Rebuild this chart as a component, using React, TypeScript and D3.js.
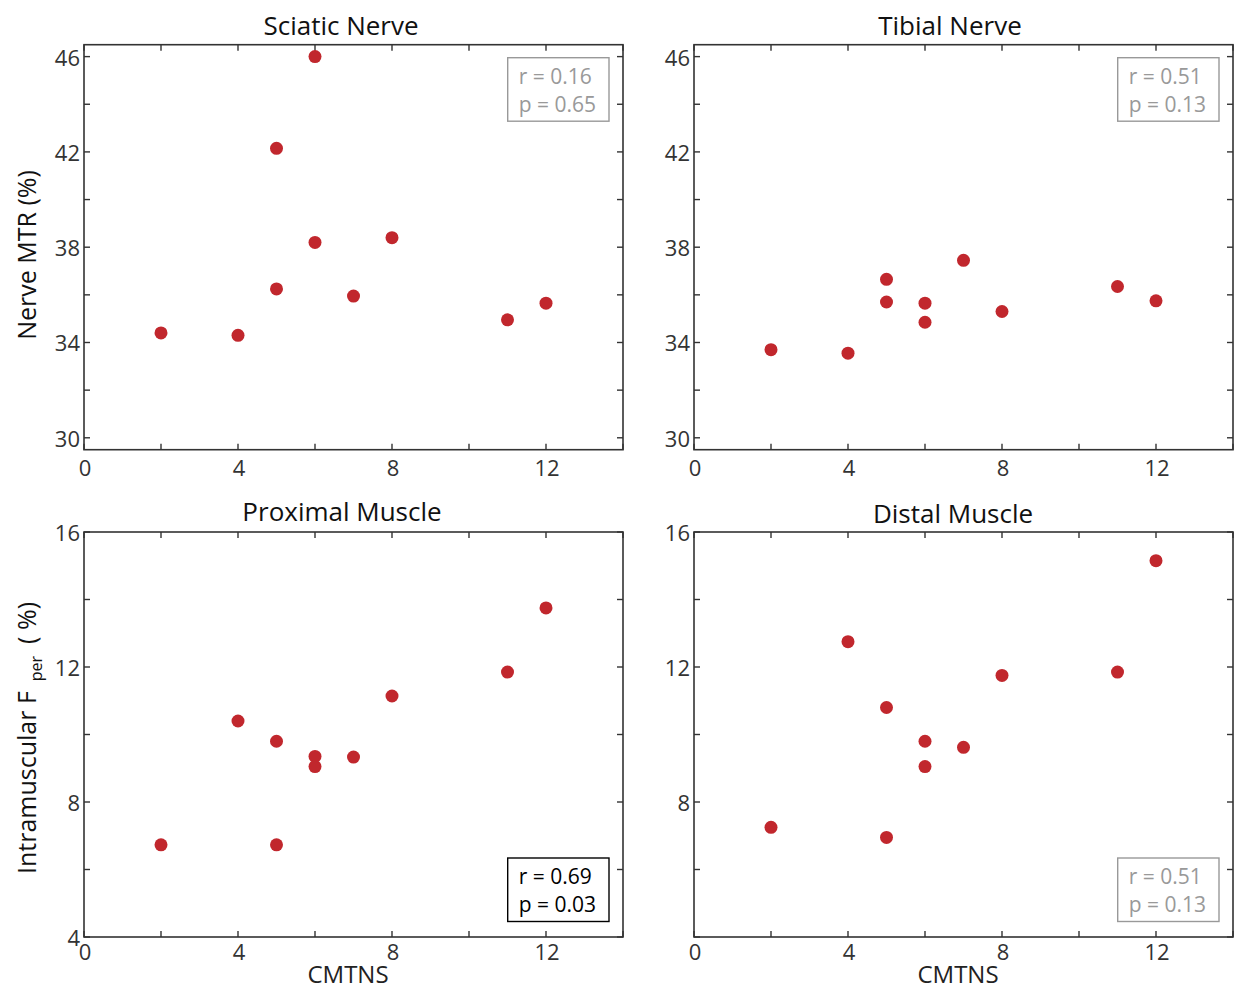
import React from "react";
import * as d3 from "d3";

const cmtns = [2, 4, 5, 5, 6, 6, 7, 8, 11, 12];
const sciaticMTR = [34.4, 34.3, 42.15, 36.25, 46.0, 38.2, 35.95, 38.4, 34.95, 35.65];
const tibialMTR = [33.7, 33.55, 36.65, 35.7, 35.65, 34.85, 37.45, 35.3, 36.35, 35.75];
const proximalFper = [6.73, 10.4, 9.8, 6.73, 9.35, 9.05, 9.33, 11.14, 11.85, 13.75];
const distalFper = [7.25, 12.75, 10.8, 6.95, 9.8, 9.05, 9.62, 11.75, 11.85, 15.15];

const xTicks = [0, 2, 4, 6, 8, 10, 12, 14];
const xLabels = [0, 4, 8, 12];
const nerveTicks = [30, 32, 34, 36, 38, 40, 42, 44, 46];
const nerveLabels = [30, 34, 38, 42, 46];
const muscleTicks = [4, 6, 8, 10, 12, 14, 16];
const muscleLabelsLeft = [4, 8, 12, 16];
const muscleLabelsRight = [8, 12, 16];

const panels = [
  { title: "Sciatic Nerve", ys: sciaticMTR, x0: 84, x1: 623, yTop: 44.7, yBot: 449.7, dom: [29.5, 46.5], ticks: nerveTicks, labels: nerveLabels, titleX: 341, titleY: 25, labY: 17, r: "0.16", p: "0.65", sig: false, boxY: 57.7 },
  { title: "Tibial Nerve", ys: tibialMTR, x0: 694, x1: 1233, yTop: 44.7, yBot: 449.7, dom: [29.5, 46.5], ticks: nerveTicks, labels: nerveLabels, titleX: 950, titleY: 25, labY: 17, r: "0.51", p: "0.13", sig: false, boxY: 57.7 },
  { title: "Proximal Muscle", ys: proximalFper, x0: 84, x1: 623, yTop: 532, yBot: 937, dom: [4, 16], ticks: muscleTicks, labels: muscleLabelsLeft, titleX: 342, titleY: 511, labY: 14, r: "0.69", p: "0.03", sig: true, boxY: 858 },
  { title: "Distal Muscle", ys: distalFper, x0: 694, x1: 1233, yTop: 532, yBot: 937, dom: [4, 16], ticks: muscleTicks, labels: muscleLabelsRight, titleX: 953, titleY: 513, labY: 14, r: "0.51", p: "0.13", sig: false, boxY: 858 },
];

const FONT = "'Open Sans', 'Noto Sans', sans-serif";
const AXIS = "#333";
const DOT = "#c1272d";

function Panel({ p }: { p: any }) {
  const x = d3.scaleLinear().domain([0, 14]).range([p.x0, p.x1]);
  const y = d3.scaleLinear().domain(p.dom).range([p.yBot, p.yTop]);
  const tl = 6;
  const boxColor = p.sig ? "#000" : "#999";
  const bx = p.x1 - 115.3;
  return (
    <g>
      <text x={p.titleX} y={p.titleY} textAnchor="middle" dominantBaseline="central" fontSize={26} fill="#111">{p.title}</text>
      <rect x={p.x0} y={p.yTop} width={p.x1 - p.x0} height={p.yBot - p.yTop} fill="none" stroke={AXIS} strokeWidth={1.6} />
      {xTicks.map((t) => (
        <g key={"x" + t}>
          <line x1={x(t)} x2={x(t)} y1={p.yBot} y2={p.yBot - tl} stroke={AXIS} strokeWidth={1.4} />
          <line x1={x(t)} x2={x(t)} y1={p.yTop} y2={p.yTop + tl} stroke={AXIS} strokeWidth={1.4} />
        </g>
      ))}
      {xLabels.map((t) => (
        <text key={"xl" + t} x={x(t) + 1} y={p.yBot + p.labY} textAnchor="middle" dominantBaseline="central" fontSize={22} fill={AXIS}>{t}</text>
      ))}
      {p.ticks.map((t: number) => (
        <g key={"y" + t}>
          <line x1={p.x0} x2={p.x0 + tl} y1={y(t)} y2={y(t)} stroke={AXIS} strokeWidth={1.4} />
          <line x1={p.x1} x2={p.x1 - tl} y1={y(t)} y2={y(t)} stroke={AXIS} strokeWidth={1.4} />
        </g>
      ))}
      {p.labels.map((t: number) => (
        <text key={"yl" + t} x={p.x0 - 4} y={y(t)} textAnchor="end" dominantBaseline="central" fontSize={22} fill={AXIS}>{t}</text>
      ))}
      {cmtns.map((c, i) => (
        <circle key={i} cx={x(c)} cy={y(p.ys[i])} r={6.5} fill={DOT} />
      ))}
      <rect x={bx} y={p.boxY} width={101.3} height={63.5} fill="#fff" stroke={boxColor} strokeWidth={1.4} />
      <text x={bx + 11} y={p.boxY + 18} dominantBaseline="central" fontSize={21} fill={boxColor}>{`r = ${p.r}`}</text>
      <text x={bx + 11} y={p.boxY + 46} dominantBaseline="central" fontSize={21} fill={boxColor}>{`p = ${p.p}`}</text>
    </g>
  );
}

export default function App() {
  return (
    <svg width={1235} height={990} style={{ display: "block", position: "absolute", left: 0, top: 0 }} fontFamily={FONT}>
      <rect width={1235} height={990} fill="#fff" />
      {panels.map((p) => <Panel key={p.title} p={p} />)}
      <text transform="translate(26,255) rotate(-90)" textAnchor="middle" dominantBaseline="central" fontSize={25} fill="#111">Nerve MTR (%)</text>
      <text transform="translate(26,738) rotate(-90)" textAnchor="middle" dominantBaseline="central" fontSize={25} fill="#111">
        <tspan>Intramuscular F</tspan>
        <tspan fontSize={16} dy={10} dx={10}>per</tspan>
        <tspan dy={-10} dx={12}>( %)</tspan>
      </text>
      <text x={348} y={973} textAnchor="middle" dominantBaseline="central" fontSize={24} fill="#222">CMTNS</text>
      <text x={958} y={973} textAnchor="middle" dominantBaseline="central" fontSize={24} fill="#222">CMTNS</text>
    </svg>
  );
}
